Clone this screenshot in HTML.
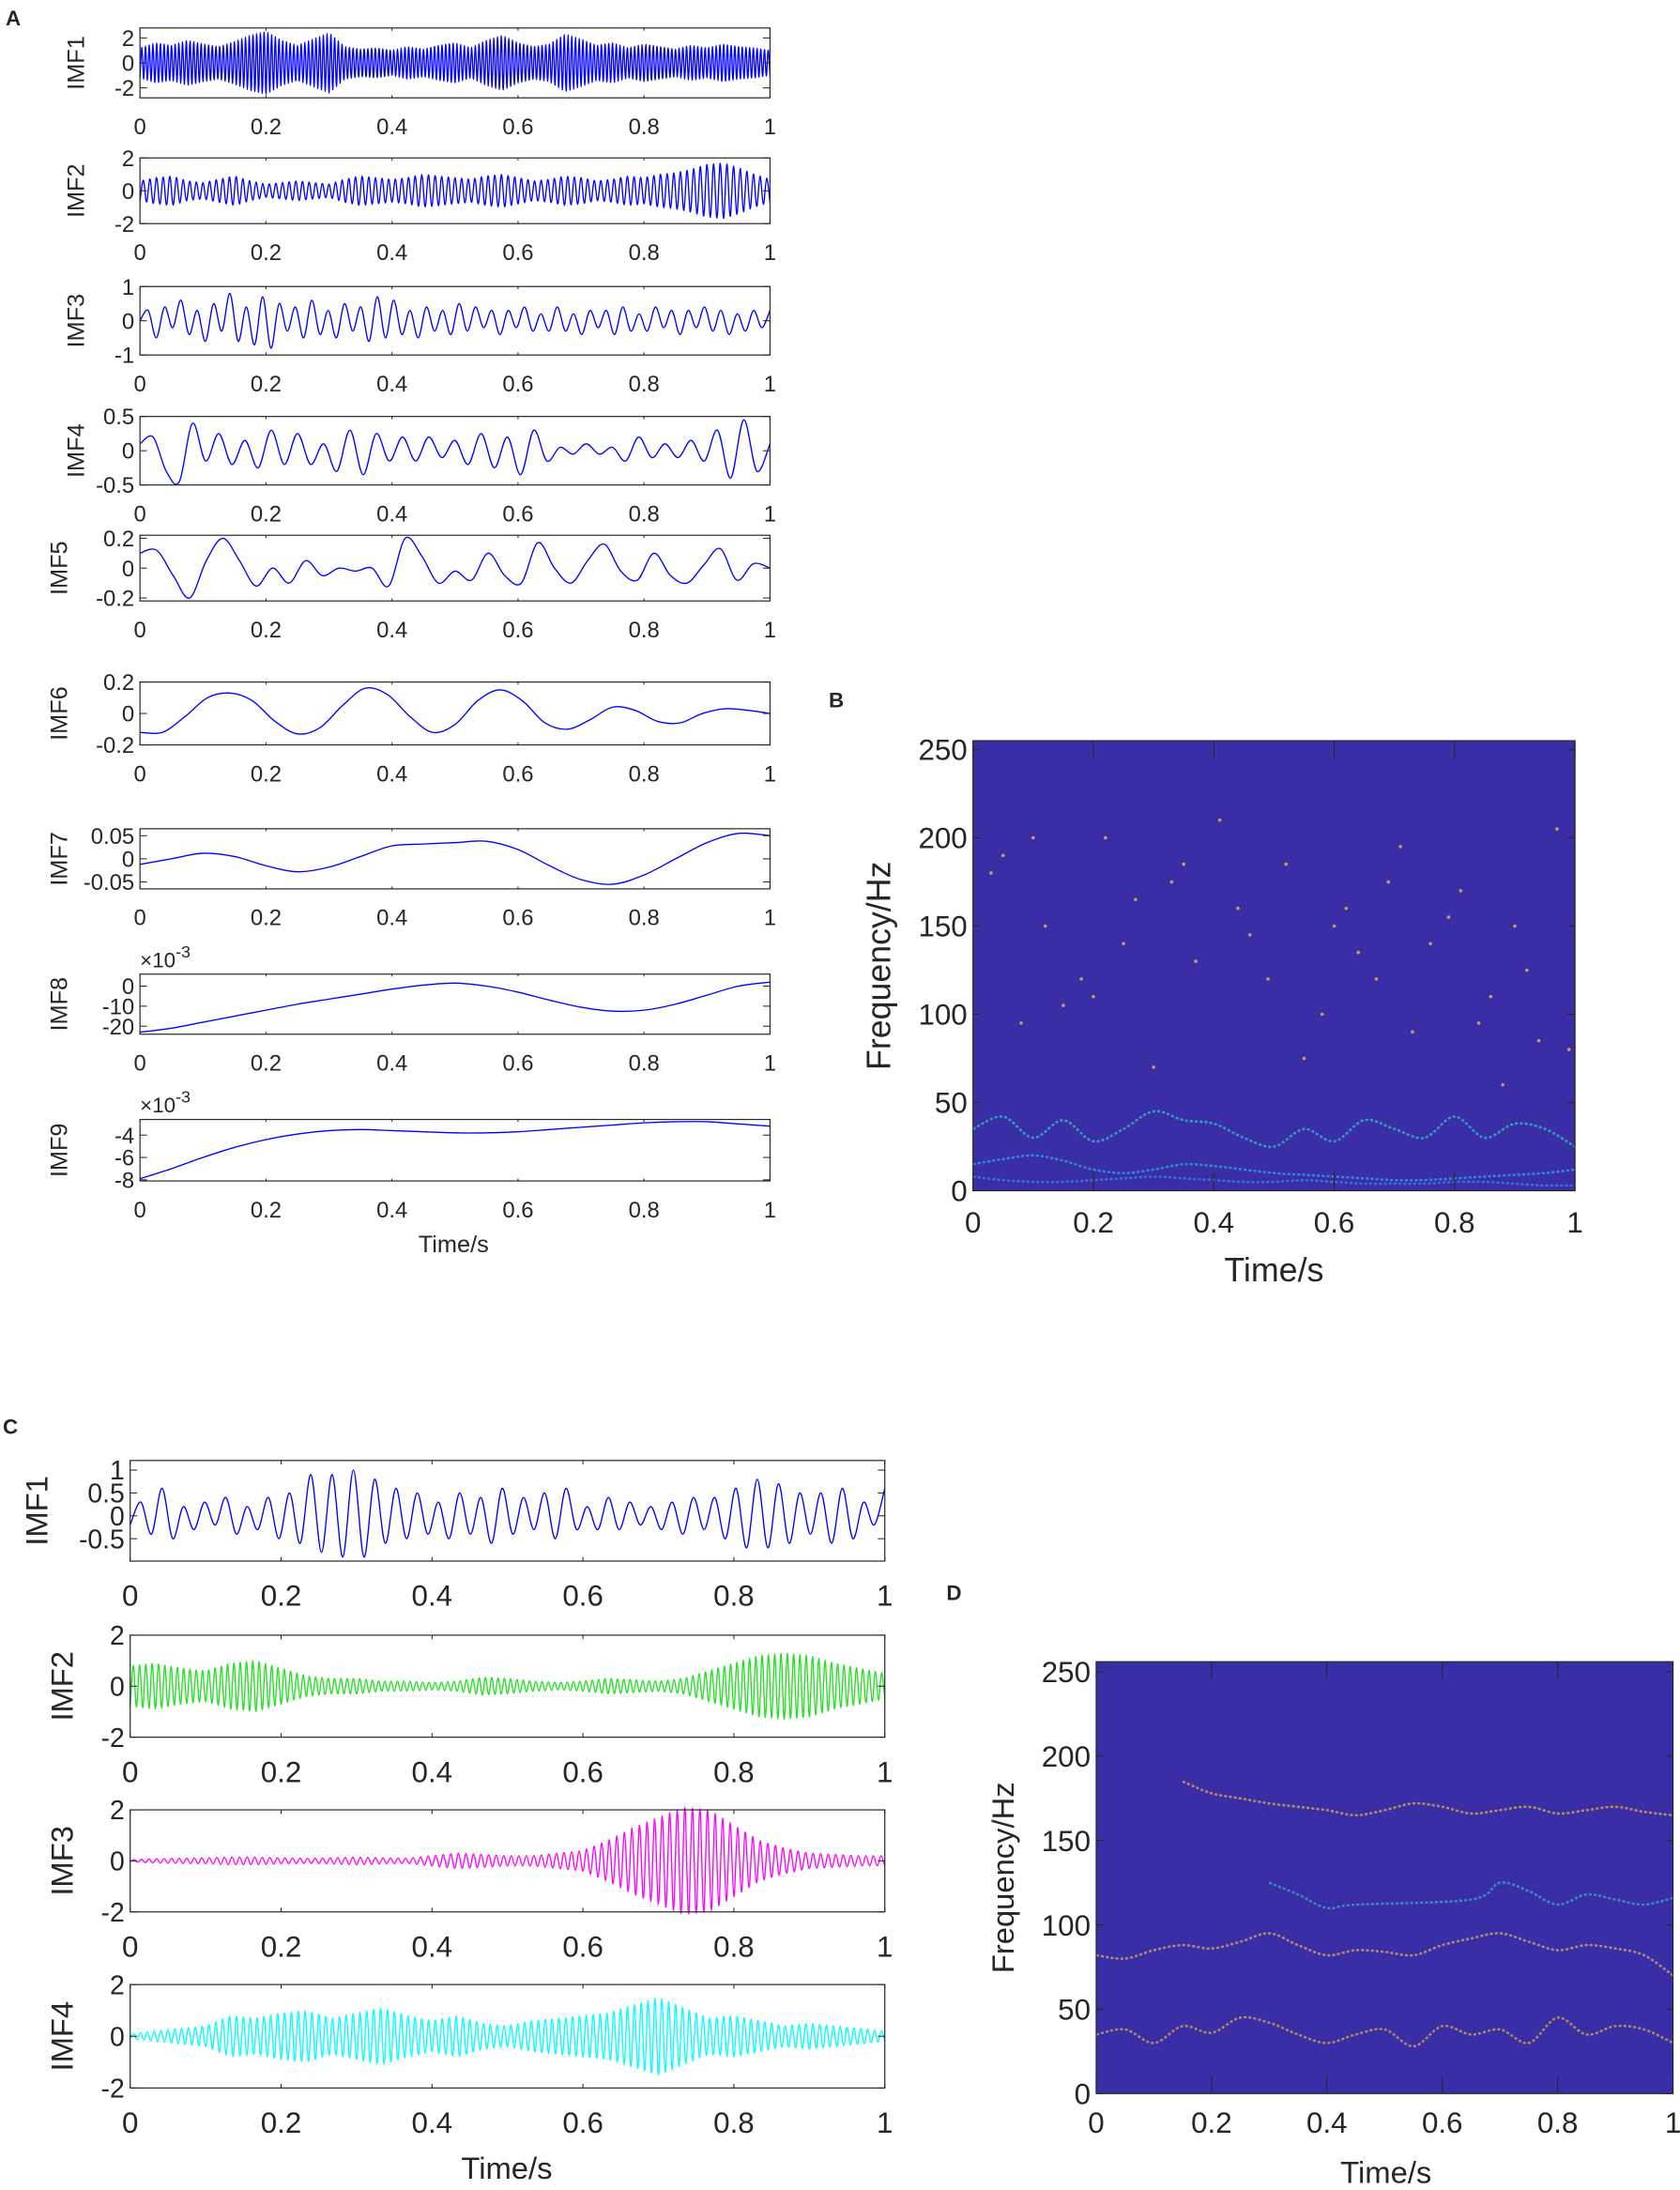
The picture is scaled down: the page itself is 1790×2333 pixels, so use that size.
<!DOCTYPE html>
<html><head><meta charset="utf-8">
<style>
html,body{margin:0;padding:0;background:#fff;}
svg{display:block;}
text{font-family:"Liberation Sans",sans-serif;fill:#262626;}
</style></head>
<body>
<svg id="fig" width="1790" height="2333" viewBox="0 0 1200 1567" preserveAspectRatio="none" xmlns="http://www.w3.org/2000/svg">
<text x="4" y="18" font-size="15" font-weight="bold">A</text>
<text x="592" y="506" font-size="15" font-weight="bold">B</text>
<text x="2" y="1026" font-size="15" font-weight="bold">C</text>
<text x="676" y="1145" font-size="15" font-weight="bold">D</text>
</svg>
<script>
// ---------- data ----------
const xTicks=[0,0.2,0.4,0.6,0.8,1];
const xTickLabels=["0","0.2","0.4","0.6","0.8","1"];
const fTicks=[0,50,100,150,200,250];
const a1Env=[1.2,1.6,1.4,1.8,1.5,1.3,1.7,2.2,2.5,1.8,1.4,1.9,2.4,1.3,1.1,1.2,1.0,1.3,1.1,1.4,1.6,1.2,1.8,2.2,1.6,1.3,1.5,2.3,1.9,1.4,1.6,1.2,1.5,1.3,1.1,1.4,1.2,1.5,1.3,1.2,1.0];
const a2Env=[0.6,0.8,0.9,0.6,0.5,0.7,0.9,0.6,0.4,0.5,0.6,0.5,0.4,0.7,0.9,0.8,0.7,0.8,1.0,0.9,0.8,0.7,0.9,1.0,0.8,0.6,0.7,0.9,0.8,0.6,0.7,0.9,0.8,1.0,1.1,1.3,1.6,1.7,1.4,1.0,0.7];
const aCycles=[170,95];
const a3=[0,0.3,-0.5,0.4,-0.2,0.6,-0.4,0.3,-0.6,0.5,-0.3,0.8,-0.6,0.4,-0.7,0.7,-0.8,0.5,-0.3,0.4,-0.5,0.6,-0.4,0.3,-0.5,0.5,-0.3,0.4,-0.6,0.7,-0.5,0.6,-0.4,0.3,-0.5,0.4,-0.3,0.3,-0.4,0.5,-0.3,0.4,-0.2,0.3,-0.4,0.3,-0.2,0.4,-0.3,0.2,-0.3,0.4,-0.3,0.2,-0.4,0.3,-0.2,0.3,-0.4,0.4,-0.3,0.2,-0.3,0.4,-0.2,0.3,-0.4,0.3,-0.2,0.4,-0.3,0.3,-0.4,0.2,-0.3,0.3,-0.2,0.3];
const a4=[0.1,0.2,-0.3,-0.45,0.4,-0.15,0.25,-0.2,0.15,-0.25,0.3,-0.2,0.25,-0.2,0.1,-0.3,0.3,-0.35,0.25,-0.15,0.2,-0.15,0.2,-0.1,0.15,-0.2,0.25,-0.25,0.2,-0.35,0.3,-0.15,0.05,-0.05,0.1,-0.05,0.05,-0.15,0.2,-0.1,0.1,-0.1,0.15,-0.15,0.3,-0.4,0.45,-0.3,0.1];
const a5=[0.1,0.12,-0.05,-0.2,0.05,0.2,0.05,-0.12,0.0,-0.1,0.05,-0.05,0.0,-0.02,0.0,-0.12,0.2,0.08,-0.1,-0.02,-0.08,0.1,-0.05,-0.1,0.17,0.0,-0.1,0.05,0.16,-0.02,-0.08,0.1,-0.05,-0.1,0.02,0.13,-0.08,0.03,0.0];
const a6=[-0.12,-0.12,-0.02,0.1,0.13,0.08,-0.05,-0.13,-0.09,0.05,0.16,0.12,-0.02,-0.12,-0.07,0.08,0.15,0.08,-0.06,-0.1,-0.04,0.04,0.02,-0.05,-0.06,0.0,0.03,0.02,0.0];
const a7=[-0.012,0.0,0.012,0.005,-0.015,-0.028,-0.018,0.005,0.028,0.032,0.035,0.038,0.02,-0.015,-0.045,-0.055,-0.035,0.0,0.035,0.055,0.05];
const a8=[-23,-21,-18,-15,-12,-9,-6.5,-4,-1.5,0.5,1.5,0,-3,-7,-10.5,-12.5,-12,-9,-4.5,0,2];
const a9=[-7.9,-7,-6,-5.1,-4.4,-3.9,-3.6,-3.5,-3.6,-3.7,-3.8,-3.8,-3.7,-3.5,-3.3,-3.1,-2.9,-2.8,-2.8,-3.0,-3.2];
const c1=[-0.2,0.3,-0.4,0.6,-0.5,0.2,-0.3,0.3,-0.2,0.4,-0.4,0.2,-0.3,0.4,-0.5,0.5,-0.6,0.9,-0.8,0.9,-0.9,1.0,-0.9,0.8,-0.6,0.6,-0.5,0.5,-0.4,0.3,-0.5,0.5,-0.4,0.4,-0.6,0.6,-0.4,0.4,-0.3,0.5,-0.5,0.6,-0.3,0.2,-0.3,0.4,-0.3,0.3,-0.2,0.2,-0.3,0.3,-0.4,0.4,-0.3,0.4,-0.5,0.6,-0.7,0.8,-0.7,0.7,-0.6,0.5,-0.4,0.5,-0.6,0.6,-0.5,0.3,-0.2,0.6];
const c2Env=[0.8,0.9,0.7,0.6,0.9,1.0,0.7,0.4,0.3,0.3,0.2,0.2,0.15,0.2,0.35,0.3,0.2,0.15,0.2,0.3,0.25,0.2,0.3,0.6,0.9,1.2,1.3,1.2,0.9,0.7,0.5];
const c3Env=[0.05,0.08,0.1,0.12,0.15,0.15,0.12,0.1,0.12,0.15,0.12,0.1,0.2,0.3,0.25,0.2,0.2,0.3,0.4,0.8,1.3,1.7,2.1,2.0,1.4,0.8,0.5,0.3,0.25,0.2,0.2];
const c4Env=[0.1,0.2,0.3,0.4,0.8,0.7,0.9,1.0,0.7,0.9,1.1,0.8,0.6,0.8,0.5,0.4,0.6,0.7,0.8,0.9,1.2,1.5,1.1,0.7,0.8,0.6,0.4,0.5,0.4,0.3,0.2];
const cCycles=[120,100,110];
const bT=[0,0.05,0.1,0.15,0.2,0.25,0.3,0.35,0.4,0.45,0.5,0.55,0.6,0.65,0.7,0.75,0.8,0.85,0.9,0.95,1];
const bF1=[15,18,20,17,12,10,12,15,14,12,10,9,8,7,6,6,7,8,9,10,12];
const bF2=[35,42,30,40,28,35,45,40,38,30,25,35,28,40,35,30,42,30,38,35,25];
const bF3=[8,6,5,5,6,7,8,7,6,5,5,6,5,4,4,4,5,5,4,3,3];
const dT=[0,0.05,0.1,0.15,0.2,0.25,0.3,0.35,0.4,0.45,0.5,0.55,0.6,0.65,0.7,0.75,0.8,0.85,0.9,0.95,1];
const dF1=[null,null,null,185,178,175,172,170,168,165,168,172,170,166,168,170,166,168,170,167,165];
const dF2=[82,80,85,88,86,90,95,88,82,85,84,82,88,92,95,90,85,88,86,82,70];
const dF3=[null,null,null,null,null,null,125,118,110,112,null,null,null,115,125,120,112,118,115,112,116];
const dF4=[35,38,30,40,36,45,42,35,30,35,38,28,40,35,38,30,45,35,40,38,30];
const bDotsT=[0.05,0.12,0.18,0.22,0.27,0.33,0.37,0.41,0.46,0.52,0.58,0.62,0.67,0.71,0.76,0.81,0.86,0.9,0.94,0.97,0.08,0.3,0.55,0.73,0.88,0.03,0.15,0.25,0.44,0.49,0.64,0.69,0.79,0.84,0.92,0.99,0.1,0.2,0.35,0.6];
const bDotsF=[190,150,120,200,165,175,130,210,145,185,100,160,120,195,140,170,110,150,85,205,95,70,75,90,60,180,105,140,160,120,135,175,155,95,125,80,200,110,185,150];

// ---------- helpers ----------
const svg=document.getElementById('fig');
const NS='http://www.w3.org/2000/svg';
function mk(tag,attrs,parent){const e=document.createElementNS(NS,tag);for(const k in attrs)e.setAttribute(k,attrs[k]);(parent||svg).appendChild(e);return e;}
function smoothPath(pts){let d='M'+pts[0][0].toFixed(2)+','+pts[0][1].toFixed(2);
 for(let i=0;i<pts.length-1;i++){const p0=pts[i-1]||pts[i],p1=pts[i],p2=pts[i+1],p3=pts[i+2]||p2;
  const c1x=p1[0]+(p2[0]-p0[0])/6,c1y=p1[1]+(p2[1]-p0[1])/6,c2x=p2[0]-(p3[0]-p1[0])/6,c2y=p2[1]-(p3[1]-p1[1])/6;
  d+='C'+c1x.toFixed(2)+','+c1y.toFixed(2)+' '+c2x.toFixed(2)+','+c2y.toFixed(2)+' '+p2[0].toFixed(2)+','+p2[1].toFixed(2);}
 return d;}
function interpEnv(env,t){const p=t*(env.length-1),i=Math.min(Math.floor(p),env.length-2),f=p-i;return env[i]*(1-f)+env[i+1]*f;}

function axesBox(o){
 const g=mk('g',{});
 
 
 const xs=t=>o.x0+(o.x1-o.x0)*t;
 const ys=v=>o.y1-(v-o.ymin)/(o.ymax-o.ymin)*(o.y1-o.y0);
 if(o.bg) mk('rect',{x:o.x0,y:o.y0,width:o.x1-o.x0,height:o.y1-o.y0,fill:o.bg},g);
 return {g,xs,ys};
}
function frame(o,ax){
 const g=ax.g;
 mk('rect',{x:o.x0,y:o.y0,width:o.x1-o.x0,height:o.y1-o.y0,fill:'none',stroke:'#262626','stroke-width':0.8},g);
 const tl=(o.y1-o.y0)*0.04;
 xTicks.forEach((t,i)=>{const x=ax.xs(t);
  mk('line',{x1:x,x2:x,y1:o.y1,y2:o.y1-tl,stroke:'#262626','stroke-width':0.7},g);
  mk('line',{x1:x,x2:x,y1:o.y0,y2:o.y0+tl,stroke:'#262626','stroke-width':0.7},g);
  const tx=mk('text',{x:x,y:o.y1+o.xfs+o.xoff,'font-size':o.xfs,'text-anchor':'middle'},g);tx.textContent=xTickLabels[i];
  
  });
 o.yt.forEach((v,i)=>{const y=ax.ys(v);
  mk('line',{x1:o.x0,x2:o.x0+5,y1:y,y2:y,stroke:'#262626','stroke-width':0.7},g);
  mk('line',{x1:o.x1,x2:o.x1-5,y1:y,y2:y,stroke:'#262626','stroke-width':0.7},g);
  const tx=mk('text',{x:o.x0-4,y:y+o.yfs*0.36,'font-size':o.yfs,'text-anchor':'end'},g);tx.textContent=o.ytl[i];
  
  });
 if(o.ylab){const cy=(o.y0+o.y1)/2;const tx=mk('text',{x:o.ylx,y:cy,'font-size':o.ylfs,'text-anchor':'middle',transform:'rotate(-90 '+o.ylx+' '+cy+')'},g);tx.textContent=o.ylab;
  
  }
 if(o.exp){const tx=mk('text',{x:o.x0,y:o.y0-5,'font-size':15},g);tx.innerHTML='×10<tspan dy="-7" font-size="12">-3</tspan>';
  
  }
}
function plotSeries(o,vals,color,smooth){
 const ax=axesBox(o);
 const pts=vals.map((v,i)=>[ax.xs(i/(vals.length-1)),ax.ys(v)]);
 const p=mk('path',{d:smooth?smoothPath(pts):'M'+pts.map(q=>q.join(',')).join('L'),fill:'none',stroke:color,'stroke-width':0.9},ax.g);
 
 
 frame(o,ax);
}
function plotCarrier(o,env,cycles,color){
 const ax=axesBox(o);
 const n=cycles*2;const pts=[];
 for(let k=0;k<=n;k++){const t=k/n;const s=(k%2?1:-1)*interpEnv(env,t);pts.push([ax.xs(t),ax.ys(s)]);}
 const p=mk('path',{d:smoothPath(pts),fill:'none',stroke:color,'stroke-width':0.9},ax.g);
 
 
 frame(o,ax);
}

// ---------- panel A ----------
const A=[
 {name:'a-imf1',y0:20,y1:70,ymin:-2.8,ymax:2.8,yt:[-2,0,2],ytl:['-2','0','2'],env:a1Env,cyc:aCycles[0],lab:'IMF1'},
 {name:'a-imf2',y0:113,y1:160,ymin:-2,ymax:2,yt:[-2,0,2],ytl:['-2','0','2'],env:a2Env,cyc:aCycles[1],lab:'IMF2'},
 {name:'a-imf3',y0:205,y1:254,ymin:-1,ymax:1,yt:[-1,0,1],ytl:['-1','0','1'],v:a3,lab:'IMF3'},
 {name:'a-imf4',y0:298,y1:347,ymin:-0.5,ymax:0.5,yt:[-0.5,0,0.5],ytl:['-0.5','0','0.5'],v:a4,lab:'IMF4'},
 {name:'a-imf5',y0:383,y1:430,ymin:-0.22,ymax:0.22,yt:[-0.2,0,0.2],ytl:['-0.2','0','0.2'],v:a5,lab:'IMF5'},
 {name:'a-imf6',y0:488,y1:533,ymin:-0.2,ymax:0.2,yt:[-0.2,0,0.2],ytl:['-0.2','0','0.2'],v:a6,lab:'IMF6'},
 {name:'a-imf7',y0:593,y1:636,ymin:-0.065,ymax:0.065,yt:[-0.05,0,0.05],ytl:['-0.05','0','0.05'],v:a7,lab:'IMF7'},
 {name:'a-imf8',y0:697,y1:740,ymin:-24,ymax:6,yt:[-20,-10,0],ytl:['-20','-10','0'],v:a8,lab:'IMF8',exp:true},
 {name:'a-imf9',y0:801,y1:845,ymin:-8.1,ymax:-2.6,yt:[-8,-6,-4],ytl:['-8','-6','-4'],v:a9,lab:'IMF9',exp:true}
];
A.forEach((p,i)=>{
 const o=Object.assign({x0:100,x1:550,xfs:16,xoff:10,yfs:16,ylab:p.lab,ylx:i<4?60:48,ylfs:17},p);
 if(p.env) plotCarrier(o,p.env,p.cyc,'#0000ff');
 else plotSeries(o,p.v,'#0000ff',true);
});
let t=mk('text',{x:324,y:896,'font-size':17,'text-anchor':'middle'});t.textContent='Time/s';



// ---------- panel C ----------
const C=[
 {name:'c-imf1',y0:1045,y1:1117,ymin:-0.99,ymax:1.21,yt:[-0.5,0,0.5,1],ytl:['-0.5','0','0.5','1']},
 {name:'c-imf2',y0:1170,y1:1243,ymin:-2,ymax:2,yt:[-2,0,2],ytl:['-2','0','2']},
 {name:'c-imf3',y0:1295,y1:1368,ymin:-2,ymax:2,yt:[-2,0,2],ytl:['-2','0','2']},
 {name:'c-imf4',y0:1420,y1:1494,ymin:-2,ymax:2,yt:[-2,0,2],ytl:['-2','0','2']}
];
const cLabs=['IMF1','IMF2','IMF3','IMF4'];
C.forEach((p,i)=>{
 const o=Object.assign({x0:93,x1:632,xfs:21,xoff:11,yfs:19,ylab:cLabs[i],ylx:i==0?34:52,ylfs:22},p);
 if(i==0) plotSeries(o,c1,'#0000ff',true);
 else plotCarrier(o,[c2Env,c3Env,c4Env][i-1],cCycles[i-1],['#22e022','#ff00ff','#00ffff'][i-1]);
});
t=mk('text',{x:362,y:1559,'font-size':22,'text-anchor':'middle'});t.textContent='Time/s';



// ---------- spectrograms ----------
function spectro(o,T,curves,colors,dotsT,dotsF){
 const ax=axesBox(o);
 const fs=f=>ax.ys(f);
 curves.forEach((c,ci)=>{
  const pts=[];T.forEach((tt,i)=>{if(c[i]!==null)pts.push([ax.xs(tt),fs(c[i])]);});
  const p=mk('path',{d:smoothPath(pts),fill:'none',stroke:colors[ci],'stroke-width':1.6,'stroke-dasharray':'2 1.5',opacity:0.85},ax.g);
  
  
 });
 if(dotsT) dotsT.forEach((tt,i)=>{const d=mk('circle',{cx:ax.xs(tt),cy:fs(dotsF[i]),r:1.2,fill:'#c8a060'},ax.g);
  
  });
 frame(o,ax);
}
spectro({name:'b-spectrogram',x0:695,x1:1125,y0:530,y1:852,ymin:0,ymax:255,yt:fTicks,ytl:fTicks.map(String),xfs:21,xoff:9,yfs:21,ylab:'Frequency/Hz',ylx:636,ylfs:24,bg:'#3a2ea6'},
 bT,[bF1,bF2,bF3],['#2fa0d8','#2fb8c0','#3a7ee0'],bDotsT,bDotsF);
t=mk('text',{x:910,y:917,'font-size':24,'text-anchor':'middle'});t.textContent='Time/s';



spectro({name:'d-spectrogram',x0:783,x1:1195,y0:1189,y1:1498,ymin:0,ymax:256,yt:fTicks,ytl:fTicks.map(String),xfs:21,xoff:7,yfs:21,ylab:'Frequency/Hz',ylx:724,ylfs:22,bg:'#3a2ea6'},
 dT,[dF1,dF2,dF3,dF4],['#d8a050','#d0a060','#3aa0c8','#c8a050'],null,null);
t=mk('text',{x:990,y:1562,'font-size':22,'text-anchor':'middle'});t.textContent='Time/s';


</script>
</body></html>
